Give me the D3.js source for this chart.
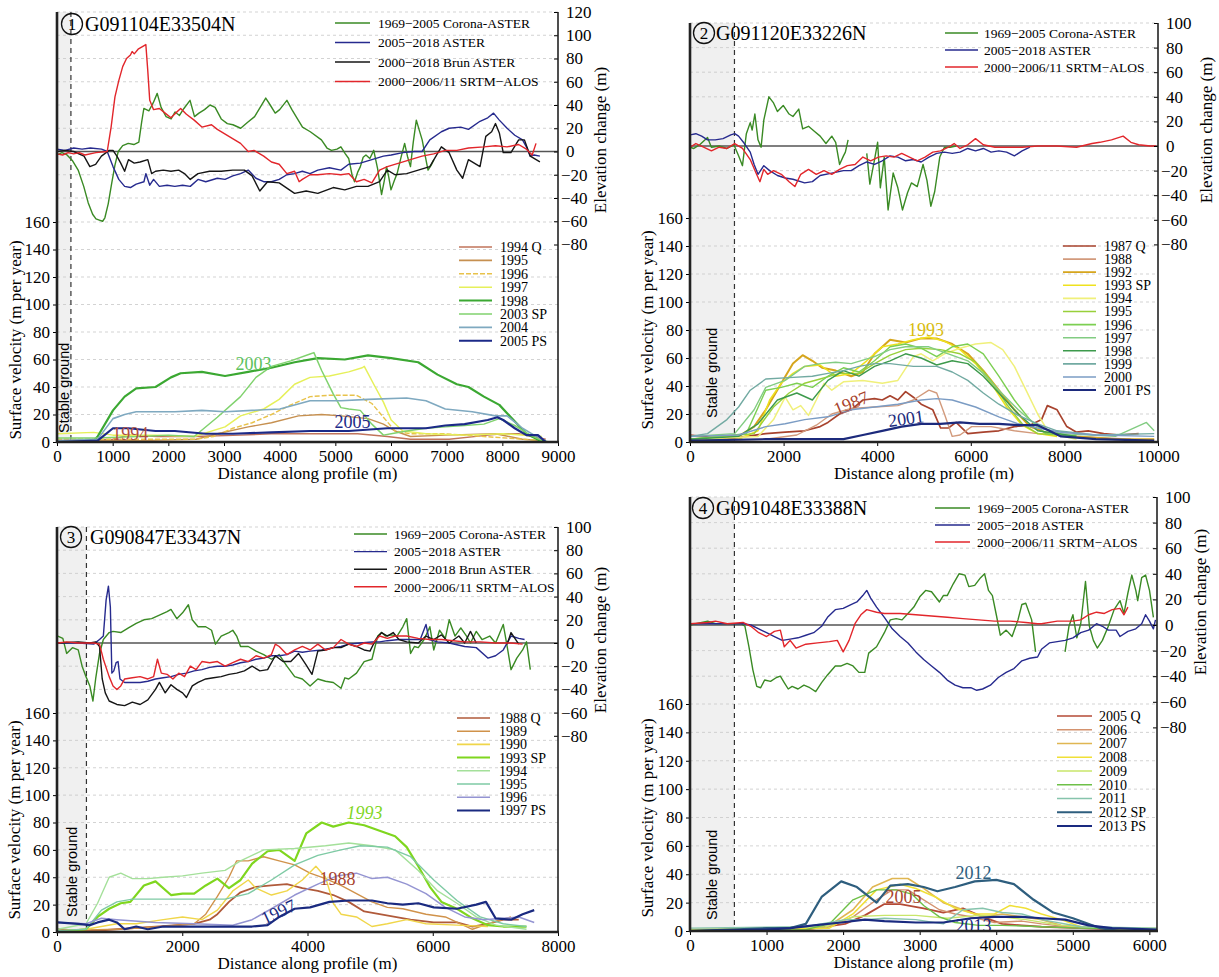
<!DOCTYPE html>
<html>
<head>
<meta charset="utf-8">
<script src="https://cdn.jsdelivr.net/npm/d3@7"></script>
<style>
body { margin: 0; background: #fff; }
svg { display: block; font-family: "Liberation Serif", "Times New Roman", serif; }
</style>
</head>
<body>
<svg id="fig" width="1219" height="977"></svg>
<script>
// ---------- panel 1 : G091104E33504N ----------
var p1Corona = [[0,-3],[90,-1],[180,-3],[280,-8],[380,-16],[480,-30],[560,-44],[640,-54],[700,-58],[760,-59],[820,-60],[860,-57],[920,-45],[980,-28],[1040,-12],[1100,0],[1180,5],[1280,7],[1380,6],[1470,8],[1520,25],[1560,37],[1650,35],[1730,42],[1800,50],[1870,38],[1960,30],[2050,28],[2120,34],[2200,31],[2280,37],[2390,44],[2470,30],[2550,33],[2650,36],[2750,40],[2840,38],[2950,28],[3060,24],[3160,23],[3300,20],[3420,25],[3550,30],[3650,38],[3750,46],[3830,40],[3920,33],[4000,36],[4130,44],[4220,36],[4320,28],[4410,21],[4550,17],[4750,10],[4850,3],[4930,1],[5030,2],[5100,4],[5180,-2],[5240,-6],[5300,-20],[5345,-26],[5400,-18],[5450,-13],[5500,-5],[5550,-3],[5620,-6],[5690,1],[5760,-15],[5830,-37],[5880,-25],[5920,-13],[5960,-22],[6000,-33],[6060,-25],[6110,-19],[6180,-5],[6245,7],[6300,-5],[6350,-13],[6400,8],[6455,27],[6510,18],[6560,10],[6620,-5],[6665,-16],[6720,-12],[6770,-7]];
var p1Aster = [[0,2],[150,1],[300,3],[450,2],[600,3],[800,2],[902,0],[1006,-13],[1110,-24],[1215,-30],[1319,-31],[1423,-28],[1562,-26],[1596,-19],[1666,-29],[1735,-24],[1839,-30],[1978,-29],[2117,-30],[2256,-29],[2394,-30],[2533,-24],[2672,-26],[2880,-23],[3019,-24],[3158,-21],[3297,-19],[3435,-16],[3574,-23],[3713,-26],[3852,-26],[3991,-24],[4129,-20],[4268,-19],[4407,-17],[4546,-19],[4685,-16],[4893,-14],[5100,-16],[5240,-11],[5448,-10],[5656,-7],[5864,-4],[6003,-3],[6211,-1],[6420,0],[6558,0],[6697,10],[6905,17],[7044,20],[7252,21],[7391,19],[7599,26],[7738,29],[7842,33],[7946,27],[8085,20],[8224,14],[8363,10],[8432,4],[8502,-4],[8571,-3],[8675,-4]];
var p1Brun = [[0,0],[150,1],[300,0],[486,-4],[590,-13],[694,-11],[798,-4],[937,1],[1006,1],[1076,-4],[1145,-10],[1215,-17],[1284,-7],[1388,-10],[1492,-9],[1631,-7],[1700,-19],[1770,-17],[1909,-16],[2047,-17],[2186,-16],[2290,-19],[2394,-24],[2533,-19],[2741,-17],[2950,-17],[3158,-16],[3366,-16],[3505,-21],[3643,-34],[3782,-26],[3991,-27],[4268,-36],[4476,-34],[4685,-36],[4962,-31],[5170,-33],[5379,-30],[5587,-30],[5795,-26],[5934,-16],[6073,-20],[6281,-19],[6489,-16],[6697,-13],[6905,4],[7044,-1],[7183,-16],[7287,-23],[7391,-7],[7599,-13],[7703,13],[7808,17],[7877,24],[7946,16],[8016,-1],[8154,-1],[8293,10],[8397,10],[8502,-4],[8675,-9]];
var p1Srtm = [[0,-2],[100,-3],[200,-1],[300,-2],[400,-1],[500,-3],[700,-1],[902,0],[972,21],[1041,47],[1110,61],[1180,73],[1249,80],[1319,83],[1350,86],[1388,84],[1457,88],[1527,90],[1596,92],[1630,70],[1666,44],[1735,36],[1839,37],[1943,33],[2047,29],[2130,33],[2221,37],[2325,32],[2464,27],[2603,21],[2776,23],[2880,19],[3088,13],[3297,7],[3435,0],[3539,1],[3713,-4],[3852,-9],[3991,-11],[4129,-19],[4268,-17],[4350,-26],[4407,-24],[4546,-20],[4685,-20],[4893,-19],[5100,-20],[5240,-19],[5379,-26],[5517,-24],[5656,-27],[5795,-16],[5934,-13],[6142,-10],[6350,-7],[6558,-4],[6767,-2],[6975,1],[7183,1],[7391,3],[7669,4],[7877,5],[8085,4],[8293,6],[8432,2],[8536,-3],[8605,7]];
var p1v1994 = [[0,1],[1000,2],[1300,5],[1800,4],[2464,4],[3300,5],[3852,6],[4600,6],[5400,6],[5934,4],[6350,2],[7044,2],[7738,5],[8000,6],[8293,6],[8780,2]];
var p1v1995 = [[0,1],[1500,1],[2500,2],[2880,6],[3435,11],[3852,14],[4338,19],[4754,20],[5100,19],[5587,17],[5864,13],[6073,8],[6350,4],[6975,5],[7877,6],[8363,2],[8710,1]];
var p1v1996 = [[0,2],[1500,2],[2500,2],[2810,4],[3158,10],[3505,14],[3852,20],[4199,27],[4546,33],[4893,34],[5379,34],[5656,28],[5864,18],[6073,8],[6350,6],[6975,6],[7669,4],[8710,1]];
var p1v1997 = [[0,6],[660,7],[1006,5],[1770,5],[2464,4],[3019,11],[3297,19],[3713,24],[3991,31],[4268,42],[4546,47],[4893,48],[5240,51],[5483,54],[5520,55],[5690,42],[5864,29],[6003,16],[6211,8],[6628,6],[7322,5],[8016,6],[8710,4]];
var p1v1998 = [[0,0],[660,1],[730,4],[1006,23],[1215,33],[1423,39],[1770,40],[2047,47],[2221,50],[2603,51],[3019,48],[3435,51],[3852,54],[4268,58],[4685,61],[5170,60],[5587,63],[6003,61],[6489,58],[6836,49],[7183,42],[7391,40],[7669,33],[7946,27],[8154,18],[8432,6],[8675,1],[8814,0]];
var p1v2003 = [[0,3],[700,3],[1500,4],[2000,5],[2464,4],[2880,18],[3297,33],[3574,47],[3852,55],[4199,59],[4546,64],[4615,65],[4754,52],[4962,35],[5100,25],[5240,24],[5448,23],[5656,13],[5864,5],[6003,6],[6281,8],[6628,10],[6975,11],[7322,12],[7669,13],[7946,17],[8224,12],[8502,5],[8710,1]];
var p1v2004 = [[0,1],[730,2],[1006,17],[1215,20],[1423,22],[2117,22],[2603,23],[3019,22],[3505,23],[4004,24],[4546,30],[5100,30],[5587,31],[6281,32],[6628,30],[6975,24],[7460,22],[7877,19],[8085,19],[8363,10],[8571,5],[8780,1]];
var p1v2005 = [[0,0],[730,1],[1006,10],[1284,10],[1770,8],[2117,8],[2672,6],[3158,6],[3852,7],[4546,8],[5240,8],[5934,10],[6628,10],[6975,12],[7322,13],[7738,16],[7912,18],[8016,16],[8224,10],[8432,5],[8640,5],[8780,0]];

// ---------- panel 2 : G091120E33226N ----------
var p2Corona = [[0,-1],[83,-2],[208,1],[374,7],[457,-1],[623,0],[789,-2],[938,1],[1038,-8],[1121,-16],[1204,10],[1287,19],[1328,13],[1386,26],[1453,5],[1519,-1],[1577,21],[1685,40],[1785,35],[1868,28],[1992,33],[2117,26],[2200,24],[2324,30],[2407,14],[2532,16],[2656,12],[2781,8],[2905,2],[3030,8],[3113,3],[3196,-15],[3279,-8],[3320,-5],[3378,5],null,[3777,-6],[3843,-31],[3943,-11],[4009,3],[4067,-34],[4150,-9],[4233,-52],[4341,-22],[4441,-34],[4540,-52],[4648,-38],[4731,-30],[4856,-33],[4980,-15],[5063,-28],[5146,-49],[5229,-37],[5337,-9],[5437,-1],[5561,-1],[5686,0]];
var p2Aster = [[0,9],[125,10],[249,8],[374,5],[540,5],[706,6],[872,9],[955,10],[1038,8],[1162,2],[1287,-5],[1370,-15],[1453,-23],[1577,-16],[1702,-20],[1868,-24],[2034,-26],[2200,-27],[2449,-30],[2615,-29],[2781,-24],[3030,-22],[3279,-20],[3445,-20],[3611,-16],[3777,-13],[3943,-15],[4109,-12],[4275,-8],[4441,-9],[4607,-12],[4773,-11],[4939,-13],[5105,-9],[5271,-6],[5437,-5],[5603,-6],[5769,-5],[5935,-2],[6101,-4],[6267,-2],[6433,-5],[6599,-4],[6765,-5],[6931,-8],[7097,-4],[7263,-1]];
var p2Srtm = [[0,-1],[125,2],[291,-1],[457,-4],[623,-1],[789,-2],[955,2],[1121,-2],[1287,-11],[1411,-22],[1494,-29],[1577,-19],[1660,-23],[1785,-20],[1951,-23],[2117,-29],[2241,-33],[2366,-23],[2532,-19],[2698,-23],[2864,-20],[3030,-23],[3196,-19],[3362,-16],[3528,-15],[3694,-9],[3860,-12],[4026,-9],[4192,-8],[4358,-9],[4524,-6],[4690,-9],[4856,-12],[5022,-9],[5188,-5],[5354,-4],[5520,-1],[5644,2],[5769,-2],[5935,1],[6101,6],[6267,1],[6516,-1],[6765,-1],[7097,-1],[7429,0],[7844,0],[8259,-1],[8591,2],[8757,3],[9006,5],[9255,8],[9421,3],[9587,1],[9836,0],[9960,0]];
var p2v1987 = [[0,5],[789,2],[1619,6],[2034,7],[2449,8],[2781,11],[2947,14],[3196,20],[3445,23],[3694,30],[3943,31],[4109,30],[4275,33],[4441,30],[4607,36],[4773,32],[4939,27],[5188,23],[5354,10],[5520,10],[5686,14],[5935,6],[6267,7],[6599,8],[6931,11],[7263,12],[7512,16],[7636,26],[7844,23],[8051,11],[8259,7],[8508,8],[8840,6],[9172,5],[9587,6]];
var p2v1988 = [[0,1],[1619,2],[2283,5],[2698,12],[3030,20],[3445,24],[3943,25],[4441,26],[4773,30],[5105,37],[5271,35],[5437,20],[5603,4],[5769,5],[6018,11],[6433,11],[6931,8],[7429,6],[8259,4],[9421,2]];
var p2v1992 = [[0,2],[1038,4],[1370,11],[1619,23],[1951,42],[2200,56],[2407,62],[2615,58],[2822,53],[3113,51],[3445,47],[3694,50],[3943,63],[4275,73],[4607,71],[4939,74],[5271,74],[5603,70],[5935,63],[6267,51],[6599,37],[6931,23],[7263,11],[7678,6],[8259,4],[9089,2],[9919,2]];
var p2v1993 = [[0,2],[1038,2],[1453,8],[1702,30],[1951,42],[2200,49],[2449,54],[2781,55],[3113,47],[3445,49],[3777,58],[4109,68],[4441,70],[4773,73],[5105,75],[5437,72],[5769,66],[6101,56],[6433,42],[6765,25],[7097,12],[7429,6],[7844,4]];
var p2v1994 = [[0,2],[1453,4],[1785,16],[2034,32],[2200,23],[2366,26],[2532,19],[2698,30],[2864,42],[3030,37],[3279,43],[3694,44],[4109,42],[4441,44],[4773,61],[4939,63],[5188,58],[5437,63],[5769,67],[6101,70],[6433,71],[6682,66],[6931,54],[7180,37],[7429,20],[7678,6],[8259,2]];
var p2v1995 = [[0,2],[1370,6],[1785,25],[2117,35],[2449,42],[2781,45],[3196,49],[3611,49],[3943,56],[4275,62],[4607,66],[4939,67],[5354,66],[5769,63],[6101,57],[6433,44],[6765,27],[7097,13],[7429,6],[8259,4]];
var p2v1996 = [[0,2],[1204,6],[1619,37],[1951,39],[2283,42],[2615,39],[2947,47],[3279,53],[3611,50],[3943,58],[4275,68],[4607,70],[4939,67],[5271,61],[5603,68],[5935,70],[6267,63],[6599,47],[6931,30],[7263,16],[7595,6],[8259,4]];
var p2v1997 = [[0,4],[955,6],[1370,23],[1619,39],[2034,44],[2449,54],[2781,56],[3113,57],[3445,56],[3943,61],[4275,66],[4607,68],[5105,68],[5520,63],[5935,58],[6267,49],[6599,37],[7014,23],[7429,11],[7927,6],[9089,4],[9753,14],[9919,8]];
var p2v1998 = [[0,2],[1038,4],[1453,13],[1868,30],[2283,35],[2615,30],[2947,44],[3279,51],[3611,47],[3943,54],[4275,58],[4607,63],[4939,60],[5271,55],[5603,58],[5935,56],[6267,47],[6599,35],[7014,20],[7429,8],[8259,4]];
var p2v1999 = [[0,4],[374,6],[789,16],[1038,25],[1287,37],[1619,45],[2117,46],[2615,47],[2947,49],[3279,51],[3611,54],[3943,56],[4275,56],[4773,54],[5271,54],[5603,50],[5935,44],[6267,35],[6599,27],[7014,19],[7429,13],[7844,8],[8674,5],[9919,6]];
var p2v2000 = [[0,4],[1038,5],[1619,11],[2034,13],[2449,16],[2947,18],[3445,23],[3943,25],[4441,27],[4939,30],[5271,31],[5603,30],[6101,25],[6599,18],[7014,13],[7429,10],[7927,7],[8674,5],[9919,4]];
var p2v2001 = [[0,1],[1619,2],[3279,2],[3694,5],[4109,8],[4524,11],[4939,13],[5354,13],[5769,14],[6184,13],[6599,13],[7014,12],[7429,12],[7678,8],[7927,4],[8674,2],[9919,1]];

// ---------- panel 3 : G090847E33437N ----------
var p3Corona = [[12,6],[93,4],[154,-9],[247,-4],[339,-6],[401,-20],[463,-29],[524,-37],[574,-50],[617,-31],[679,-9],[740,3],[833,9],[895,10],[1018,9],[1141,13],[1265,17],[1388,20],[1512,21],[1635,24],[1758,27],[1820,29],[1913,21],[2005,26],[2098,33],[2160,20],[2252,14],[2375,14],[2468,11],[2530,-1],[2622,6],[2746,9],[2807,11],[2869,6],[2931,-3],[3054,-3],[3178,-7],[3301,-10],[3424,-14],[3548,-10],[3671,-20],[3795,-29],[3918,-31],[4041,-37],[4165,-31],[4288,-33],[4412,-34],[4535,-39],[4597,-30],[4658,-31],[4782,-26],[4905,-16],[5029,-14],[5121,6],[5183,9],[5245,6],[5337,7],[5430,6],[5522,14],[5584,21],[5646,-9],[5707,-3],[5769,-4],[5862,3],[5954,14],[6016,-6],[6108,11],[6201,4],[6263,20],[6355,6],[6448,13],[6540,6],[6602,0],[6695,10],[6787,3],[6910,6],[7003,0],[7126,16],[7188,-3],[7250,-23],[7342,-13],[7435,-6],[7497,1],[7558,-23]];
var p3Aster = [[12,0],[339,0],[586,-1],[679,3],[740,6],[784,37],[821,49],[852,31],[876,-26],[907,-24],[944,-17],[975,-16],[1006,-31],[1080,-34],[1203,-34],[1327,-34],[1450,-33],[1573,-31],[1697,-30],[1820,-29],[1944,-27],[2067,-26],[2190,-24],[2314,-23],[2437,-21],[2561,-20],[2684,-20],[2807,-19],[2931,-17],[3054,-16],[3178,-14],[3301,-13],[3424,-11],[3548,-11],[3671,-10],[3795,-7],[3918,-8],[4041,-7],[4227,-6],[4412,-4],[4535,-3],[4658,-1],[4844,0],[5029,1],[5152,1],[5275,2],[5460,3],[5646,3],[5800,3],[5892,16],[5942,3],[6077,1],[6263,0],[6510,-3],[6695,-4],[6880,-13],[7003,-11],[7126,-6],[7250,6],[7373,4],[7466,3]];
var p3Brun = [[12,0],[339,1],[524,0],[617,1],[679,-3],[722,-31],[771,-43],[833,-50],[956,-53],[1080,-54],[1203,-51],[1327,-53],[1450,-49],[1573,-40],[1635,-34],[1728,-43],[1820,-36],[1913,-40],[2005,-43],[2067,-47],[2160,-37],[2252,-34],[2375,-31],[2499,-30],[2622,-29],[2746,-27],[2869,-26],[2992,-24],[3116,-20],[3239,-24],[3363,-23],[3486,-11],[3609,-16],[3733,-16],[3856,-9],[3980,-19],[4072,-27],[4165,-7],[4288,-6],[4412,-4],[4535,-4],[4658,-1],[4782,-3],[4905,-6],[4998,-7],[5090,3],[5183,9],[5275,6],[5368,9],[5460,3],[5584,1],[5769,0],[5892,6],[6016,3],[6139,7],[6263,0],[6417,6],[6510,0],[6602,10],[6695,0],null,[7188,-1],[7250,9],[7373,-1]];
var p3Srtm = [[12,0],[154,1],[339,0],[586,0],[679,-1],[740,-14],[833,-29],[895,-37],[956,-40],[1018,-37],[1080,-31],[1203,-30],[1327,-29],[1450,-31],[1543,-29],[1604,-14],[1666,-26],[1758,-27],[1851,-31],[1944,-26],[2036,-29],[2129,-20],[2221,-23],[2314,-16],[2437,-17],[2561,-16],[2684,-20],[2807,-17],[2931,-14],[3054,-16],[3178,-11],[3301,-13],[3424,-10],[3486,-1],[3548,-3],[3671,-10],[3795,-6],[3918,-3],[4041,-6],[4165,-1],[4288,-6],[4412,-4],[4535,3],[4658,-1],[4782,-3],[4905,0],[5029,-1],[5152,6],[5275,4],[5399,6],[5584,6],[5769,4],[5954,3],[6139,3],[6324,2],[6510,1],[6757,1],[7003,0],[7250,0],[7435,-1]];
var p3v1988 = [[12,2],[339,1],[648,1],[956,2],[1573,4],[2190,6],[2437,9],[2561,13],[2746,22],[2931,29],[3178,33],[3424,34],[3671,35],[3918,32],[4165,30],[4412,27],[4658,22],[4905,15],[5152,13],[5399,11],[5646,9],[6016,7],[6386,7],[6633,4],[6880,6],[7126,9],[7373,9]];
var p3v1989 = [[12,1],[956,2],[1697,4],[2190,6],[2375,13],[2561,26],[2746,40],[2869,52],[3054,52],[3301,55],[3548,52],[3795,49],[4041,43],[4288,39],[4535,34],[4782,28],[5029,22],[5275,18],[5522,17],[5892,13],[6201,11],[6633,2],[6880,6],[7250,11]];
var p3v1990 = [[12,1],[463,2],[956,6],[1265,6],[1697,9],[2005,11],[2314,9],[2561,16],[2807,30],[3054,38],[3178,32],[3424,27],[3671,30],[3918,38],[4134,48],[4288,40],[4412,21],[4535,13],[4782,11],[5029,4],[5275,6],[5584,9],[5892,6],[6386,5],[6880,4]];
var p3v1993 = [[12,0],[463,2],[648,11],[833,17],[1018,21],[1172,22],[1388,34],[1573,37],[1820,27],[2005,28],[2190,28],[2375,34],[2561,39],[2746,32],[2931,38],[3116,50],[3363,59],[3548,60],[3795,52],[3980,72],[4227,80],[4412,77],[4658,80],[4905,78],[5152,74],[5399,70],[5584,62],[5769,48],[5954,33],[6139,22],[6386,17],[6633,10],[6880,5],[7126,4],[7497,4]];
var p3v1994 = [[12,2],[463,6],[648,21],[833,40],[1018,43],[1203,39],[1450,39],[1697,40],[2005,41],[2314,43],[2684,45],[2931,52],[3301,60],[3795,61],[4288,63],[4658,65],[5029,63],[5399,60],[5769,45],[6077,30],[6386,21],[6695,11],[7003,5],[7497,2]];
var p3v1995 = [[12,1],[463,2],[710,16],[956,22],[1203,24],[1697,24],[2190,24],[2684,24],[3054,28],[3424,38],[3795,49],[4165,56],[4535,60],[4844,63],[5275,62],[5646,55],[6016,38],[6386,23],[6757,11],[7126,6],[7497,4]];
var p3v1996 = [[12,7],[463,6],[710,10],[956,9],[1573,7],[2190,6],[2807,5],[3116,9],[3424,17],[3795,27],[4165,35],[4473,41],[4782,43],[5029,39],[5275,40],[5584,35],[5892,28],[6201,18],[6510,11],[6818,9],[7126,10],[7373,11],[7620,7]];
var p3v1997 = [[12,7],[339,6],[524,5],[648,7],[833,9],[956,7],[1080,2],[1265,4],[1450,2],[1697,4],[1944,4],[2314,4],[2807,4],[3116,4],[3363,5],[3548,11],[3795,17],[4041,18],[4350,22],[4658,23],[5029,23],[5275,21],[5522,20],[5769,21],[6016,18],[6386,17],[6695,20],[6849,22],[7003,10],[7250,9],[7435,13],[7620,16]];

// ---------- panel 4 : G091048E33388N ----------
var p4Corona = [[0,0],[77,1],[231,3],[333,1],[487,1],[590,1],[667,1],[718,-1],[770,-17],[821,-35],[872,-48],[923,-49],[975,-43],[1052,-44],[1129,-41],[1180,-40],[1231,-45],[1283,-50],[1334,-48],[1411,-50],[1488,-47],[1565,-49],[1642,-52],[1719,-45],[1796,-39],[1898,-32],[1975,-32],[2052,-30],[2129,-32],[2206,-37],[2283,-37],[2334,-22],[2437,-17],[2539,-6],[2616,4],[2693,5],[2770,4],[2847,9],[2924,14],[3001,22],[3078,27],[3155,26],[3258,18],[3309,23],[3360,23],[3437,32],[3514,40],[3591,39],[3642,30],[3719,31],[3796,37],[3848,40],[3899,27],[3950,23],[4001,8],[4053,-8],[4130,-4],[4207,-9],[4284,4],[4335,16],[4386,17],[4463,4],[4514,-21],null,[4899,-21],[4950,-1],[5002,8],[5053,-10],[5104,1],[5166,34],[5217,-1],[5269,-12],[5320,-18],[5387,-12],[5464,-1],[5540,12],[5617,19],[5669,9],[5720,25],[5771,39],[5823,27],[5848,19],[5900,37],[5951,39],[6002,27],[6053,6]];
var p4Aster = [[0,1],[231,1],[487,1],[693,1],[795,0],[898,-3],[1000,-6],[1103,-9],[1206,-12],[1308,-11],[1411,-10],[1513,-8],[1616,-6],[1719,-1],[1796,6],[1898,12],[2001,13],[2103,16],[2180,18],[2257,23],[2309,27],[2360,21],[2437,14],[2539,6],[2642,-3],[2745,-9],[2847,-14],[2950,-21],[3052,-27],[3155,-32],[3258,-37],[3360,-43],[3463,-47],[3565,-49],[3668,-49],[3745,-51],[3822,-50],[3924,-47],[4027,-41],[4130,-37],[4232,-34],[4335,-28],[4437,-26],[4540,-25],[4591,-19],[4694,-14],[4797,-13],[4899,-12],[5002,-10],[5104,-6],[5207,-4],[5310,1],[5387,-1],[5464,-4],[5566,-4],[5617,-9],[5720,-5],[5823,-3],[5900,1],[5951,8],[6002,3],[6053,-3],[6080,4]];
var p4Srtm = [[0,1],[231,2],[333,3],[487,1],[693,2],[795,-1],[898,-6],[1000,-9],[1103,-5],[1180,-4],[1231,-17],[1308,-12],[1385,-18],[1513,-15],[1667,-14],[1821,-13],[1924,-12],[2001,-21],[2078,-12],[2155,1],[2232,8],[2309,12],[2437,10],[2539,9],[2745,9],[2950,8],[3155,7],[3360,6],[3565,5],[3771,4],[3976,3],[4181,3],[4386,2],[4540,1],[4591,1],[4797,3],[5002,3],[5104,4],[5207,8],[5310,10],[5412,9],[5515,12],[5617,13],[5669,8],[5720,14]];
var p4v2005 = [[0,0],[1513,1],[2026,5],[2283,11],[2539,19],[2745,19],[3052,16],[3309,13],[3565,16],[3822,10],[4078,5],[4335,4],[4591,3],[5104,2],[5617,1],[6100,1]];
var p4v2006 = [[0,0],[1770,2],[2129,10],[2437,22],[2642,29],[2847,29],[3052,22],[3258,15],[3463,12],[3668,10],[3976,6],[4335,7],[4591,5],[5104,2],[6100,1]];
var p4v2007 = [[0,1],[1770,2],[2129,15],[2385,31],[2642,37],[2847,37],[3052,30],[3309,20],[3565,15],[3822,10],[4078,12],[4335,10],[4591,8],[4848,4],[5361,2],[6100,1]];
var p4v2008 = [[0,0],[1821,2],[2129,12],[2437,29],[2745,33],[2950,30],[3206,24],[3463,16],[3719,12],[3976,12],[4181,18],[4386,16],[4591,12],[4848,8],[5104,3],[6100,1]];
var p4v2009 = [[0,1],[1770,3],[2129,10],[2539,11],[2950,11],[3360,9],[3771,11],[4078,10],[4386,8],[4848,4],[5361,2],[6100,2]];
var p4v2010 = [[0,0],[1513,1],[1821,5],[2129,22],[2437,29],[2693,29],[2898,26],[3052,18],[3258,10],[3463,6],[3771,4],[4078,4],[4591,3],[5104,2],[6100,1]];
var p4v2011 = [[0,2],[1513,3],[2026,8],[2283,8],[2539,9],[2950,8],[3309,5],[3565,15],[3822,16],[4078,13],[4335,12],[4591,8],[5104,3],[6100,2]];
var p4v2012 = [[0,0],[1000,2],[1308,2],[1513,5],[1719,24],[1975,35],[2180,31],[2437,20],[2616,32],[2847,33],[3052,31],[3232,28],[3463,31],[3719,35],[4001,36],[4232,33],[4489,22],[4745,13],[5002,9],[5156,6],[5361,2],[5617,0],[6100,0]];
var p4v2013 = [[0,0],[1000,1],[1308,2],[1616,4],[1975,6],[2283,8],[2539,7],[2950,6],[3309,6],[3668,9],[3976,10],[4335,10],[4591,9],[4899,8],[5207,4],[5515,2],[6100,1]];

// legend labels
var elevNames4 = ["1969\u22122005 Corona-ASTER", "2005\u22122018 ASTER", "2000\u22122018 Brun ASTER", "2000\u22122006/11 SRTM\u2212ALOS"];
var elevNames3 = ["1969\u22122005 Corona-ASTER", "2005\u22122018 ASTER", "2000\u22122006/11 SRTM\u2212ALOS"];

var cCorona = "#3a8a24", cAster = "#262a8e", cBrun = "#161616", cSrtm = "#e2262b";

var panels = [
  { num: "1", name: "G091104E33504N",
    left: 57, right: 558, top: 12, bottom: 442, v160: 222, e0: 151.5, eMax: 120, xMax: 9000,
    xTicks: d3.range(0, 9001, 1000), stable: 250, stableDy: 9,
    title: [72, 24, 85], elevLeg: [335, 370, 378, 23, 19.5], velLeg: [459, 492, 500, 247, 13.4],
    yTitleX: 15, yTitleY: 340, eTitleX: 600, eTitleY: 140,
    elev: [[p1Corona, cCorona], [p1Aster, cAster], [p1Brun, cBrun], [p1Srtm, cSrtm]], elevNames: elevNames4,
    vel: [["1994 Q", p1v1994, "#c0735a", 1.4], ["1995", p1v1995, "#c69050", 1.4], ["1996", p1v1996, "#e8c24a", 1.4, "5,2"],
          ["1997", p1v1997, "#e6f05a", 1.5], ["1998", p1v1998, "#3ba832", 2.2], ["2003 SP", p1v2003, "#80d26e", 1.5],
          ["2004", p1v2004, "#7fa9c0", 1.6], ["2005 PS", p1v2005, "#1c2a88", 2.2]],
    notes: [["2003", 3528, 57, "#5cc25c", 0, false], ["2005", 5310, 15, "#1c2a88", 0, false], ["1994", 1314, 6, "#b04e3e", 0, false]] },
  { num: "2", name: "G091120E33226N",
    left: 690, right: 1158, top: 23, bottom: 442, v160: 218, e0: 146, eMax: 100, xMax: 10000,
    xTicks: d3.range(0, 10001, 2000), stable: 950, stableDy: 24,
    title: [704, 33, 716], elevLeg: [945, 978, 984, 33, 17], velLeg: [1063, 1096, 1104, 246, 13.1],
    yTitleX: 647, yTitleY: 330, eTitleX: 1206, eTitleY: 130,
    elev: [[p2Corona, cCorona], [p2Aster, cAster], [p2Srtm, cSrtm]], elevNames: elevNames3,
    vel: [["1987 Q", p2v1987, "#a8432e", 1.7], ["1988", p2v1988, "#d29a7c", 1.4], ["1992", p2v1992, "#d6a51c", 2.0],
          ["1993 SP", p2v1993, "#efe21e", 1.5], ["1994", p2v1994, "#f0f07a", 1.5], ["1995", p2v1995, "#98d03a", 1.4],
          ["1996", p2v1996, "#7ccf52", 1.4], ["1997", p2v1997, "#82cc82", 1.4], ["1998", p2v1998, "#3d9a4c", 1.4],
          ["1999", p2v1999, "#72aaa2", 1.4], ["2000", p2v2000, "#7b9cc4", 1.4], ["2001 PS", p2v2001, "#1c2a7c", 2.2]],
    notes: [["1993", 5043, 80, "#d8bc10", 0, false], ["1987", 3440, 28, "#a8432e", -22, false], ["2001", 4615, 17, "#1c2a7c", -8, false]] },
  { num: "3", name: "G090847E33437N",
    left: 57, right: 558, top: 527, bottom: 932, v160: 713, e0: 643, eMax: 100, xMax: 8000,
    xTicks: d3.range(0, 8001, 2000), stable: 470, stableDy: 15,
    title: [71, 537, 90], elevLeg: [354, 387, 394, 534, 17.6], velLeg: [457, 490, 499, 718, 13.2],
    yTitleX: 14, yTitleY: 820, eTitleX: 600, eTitleY: 640,
    elev: [[p3Corona, cCorona], [p3Aster, cAster], [p3Brun, cBrun], [p3Srtm, cSrtm]], elevNames: elevNames4,
    vel: [["1988 Q", p3v1988, "#b05a3a", 1.8], ["1989", p3v1989, "#d0924a", 1.4], ["1990", p3v1990, "#f0d64a", 1.4],
          ["1993 SP", p3v1993, "#7fd61e", 2.2], ["1994", p3v1994, "#a4e09a", 1.4], ["1995", p3v1995, "#7ecaa4", 1.4],
          ["1996", p3v1996, "#9494d2", 1.5], ["1997 PS", p3v1997, "#1a2a80", 2.2]],
    notes: [["1993", 4912, 87, "#7fd61e", 0, true], ["1988", 4480, 39, "#a8432e", 0, false], ["1997", 3536, 15, "#1a2a80", -25, false]] },
  { num: "4", name: "G091048E33388N",
    left: 690, right: 1157, top: 497, bottom: 931, v160: 704, e0: 625, eMax: 100, xMax: 6100,
    xTicks: d3.range(0, 6001, 1000), stable: 580, stableDy: 11,
    title: [703, 508, 716], elevLeg: [935, 970, 977, 508, 17], velLeg: [1057, 1092, 1099, 716, 13.75],
    yTitleX: 647, yTitleY: 818, eTitleX: 1200, eTitleY: 602,
    elev: [[p4Corona, cCorona], [p4Aster, cAster], [p4Srtm, cSrtm]], elevNames: elevNames3,
    vel: [["2005 Q", p4v2005, "#b44a36", 1.8], ["2006", p4v2006, "#d4926e", 1.4], ["2007", p4v2007, "#e0b652", 1.6],
          ["2008", p4v2008, "#f0e036", 1.5], ["2009", p4v2009, "#c8e66a", 1.4], ["2010", p4v2010, "#6ec048", 1.4],
          ["2011", p4v2011, "#86c4ac", 1.4], ["2012 SP", p4v2012, "#2e5e7e", 2.2], ["2013 PS", p4v2013, "#1a2a80", 2.2]],
    notes: [["2012", 3703, 41, "#2e5e7e", 0, false], ["2005", 2790, 24, "#a8432e", 0, false], ["2013", 3703, 4, "#1a2a80", 0, false]] }
];

var svg = d3.select("#fig");

panels.forEach(drawPanel);

function drawPanel(p, i) {
  var g = svg.append("g");
  var x = d3.scaleLinear().domain([0, p.xMax]).range([p.left, p.right]);
  var v = d3.scaleLinear().domain([0, 160]).range([p.bottom, p.v160]);
  var e = d3.scaleLinear().domain([0, p.eMax]).range([p.e0, p.top]);
  var eTicks = d3.range(-80, p.eMax + 1, 20);

  svg.append("clipPath").attr("id", "clip" + i)
     .append("rect")
     .attr("x", p.left).attr("y", p.top)
     .attr("width", p.right - p.left).attr("height", p.bottom - p.top);

  // stable ground band
  g.append("rect")
   .attr("x", p.left).attr("y", p.top)
   .attr("width", x(p.stable) - p.left).attr("height", p.bottom - p.top)
   .attr("fill", "#f0f0f0");

  // dashed grid
  var gridY = d3.range(20, 161, 20).map(v)
      .concat(eTicks.filter(function(t) { return t >= -40 && t !== 0; }).map(e));
  g.selectAll(".grid").data(gridY).enter().append("line")
   .attr("x1", p.left).attr("x2", p.right)
   .attr("y1", function(d) { return d; }).attr("y2", function(d) { return d; })
   .attr("stroke", "#c8c8c8").attr("stroke-width", 0.8).attr("stroke-dasharray", "3,3");

  // zero line of elevation change
  g.append("line")
   .attr("x1", p.left).attr("x2", p.right).attr("y1", e(0)).attr("y2", e(0))
   .attr("stroke", "#555").attr("stroke-width", 1.3);

  // stable ground limit
  g.append("line")
   .attr("x1", x(p.stable)).attr("x2", x(p.stable)).attr("y1", p.top).attr("y2", p.bottom)
   .attr("stroke", "#333").attr("stroke-width", 1.2).attr("stroke-dasharray", "5,4");

  g.append("text")
   .attr("transform", "translate(" + ((p.left + x(p.stable)) / 2) + "," + (p.bottom - p.stableDy) + ") rotate(-90)")
   .attr("dy", "0.35em")
   .style("font-family", "'Liberation Sans', Arial, sans-serif")
   .style("font-size", "14.5px")
   .text("Stable ground");

  var plot = g.append("g").attr("clip-path", "url(#clip" + i + ")");

  var velLine = d3.line().defined(function(d) { return d != null; })
      .x(function(d) { return x(d[0]); }).y(function(d) { return v(d[1]); });
  var elevLine = d3.line().defined(function(d) { return d != null; })
      .x(function(d) { return x(d[0]); }).y(function(d) { return e(d[1]); });

  p.vel.forEach(function(s) {
    plot.append("path")
        .attr("d", velLine(s[1]))
        .attr("fill", "none").attr("stroke", s[2]).attr("stroke-width", s[3])
        .attr("stroke-dasharray", s[4] || null).attr("stroke-linejoin", "round");
  });
  p.elev.forEach(function(s) {
    plot.append("path")
        .attr("d", elevLine(s[0]))
        .attr("fill", "none").attr("stroke", s[1]).attr("stroke-width", 1.4)
        .attr("stroke-linejoin", "round");
  });

  // year notes on the velocity curves
  p.notes.forEach(function(n) {
    g.append("text")
     .attr("transform", "translate(" + x(n[1]) + "," + v(n[2]) + ") rotate(" + n[4] + ")")
     .attr("text-anchor", "middle").attr("dy", "0.35em")
     .attr("fill", n[3]).style("font-size", "18px")
     .style("font-style", n[5] ? "italic" : "normal")
     .text(n[0]);
  });

  // axes
  var yAxis = g.append("g").attr("transform", "translate(" + p.left + ",0)")
      .call(d3.axisLeft(v).tickValues(d3.range(0, 161, 20)).tickSize(4).tickPadding(3));
  yAxis.select(".domain").remove();
  yAxis.selectAll("text").style("font-size", "17px").style("font-family", "'Liberation Serif', serif");

  var eAxis = g.append("g").attr("transform", "translate(" + p.right + ",0)")
      .call(d3.axisRight(e).tickValues(eTicks).tickSize(-4).tickPadding(8));
  eAxis.select(".domain").remove();
  eAxis.selectAll("text")
       .attr("x", function(d) { return d < 0 ? 3 : 8; })
       .style("font-size", "17px").style("font-family", "'Liberation Serif', serif");

  var xAxis = g.append("g").attr("transform", "translate(0," + p.bottom + ")")
      .call(d3.axisBottom(x).tickValues(p.xTicks).tickSize(4).tickPadding(4).tickFormat(d3.format("d")));
  xAxis.select(".domain").remove();
  xAxis.selectAll("text").style("font-size", "17px").style("font-family", "'Liberation Serif', serif");

  // frame
  g.append("line").attr("x1", p.left).attr("x2", p.left).attr("y1", p.top).attr("y2", p.bottom + 1)
   .attr("stroke", "#222").attr("stroke-width", 2.6);
  g.append("line").attr("x1", p.right).attr("x2", p.right).attr("y1", p.top).attr("y2", p.bottom + 1)
   .attr("stroke", "#222").attr("stroke-width", 1.6);
  g.append("line").attr("x1", p.left - 1).attr("x2", p.right + 1).attr("y1", p.bottom).attr("y2", p.bottom)
   .attr("stroke", "#222").attr("stroke-width", 2.4);

  // axis titles
  g.append("text")
   .attr("transform", "translate(" + p.yTitleX + "," + p.yTitleY + ") rotate(-90)")
   .attr("text-anchor", "middle").attr("dy", "0.35em").style("font-size", "17px")
   .text("Surface velocity (m per year)");
  g.append("text")
   .attr("transform", "translate(" + p.eTitleX + "," + p.eTitleY + ") rotate(-90)")
   .attr("text-anchor", "middle").attr("dy", "0.35em").style("font-size", "17px")
   .text("Elevation change (m)");
  g.append("text")
   .attr("x", (p.left + p.right) / 2).attr("y", p.bottom + 37)
   .attr("text-anchor", "middle").style("font-size", "17px")
   .text("Distance along profile (m)");

  // title with circled number
  g.append("circle").attr("cx", p.title[0]).attr("cy", p.title[1]).attr("r", 10.5)
   .attr("fill", "none").attr("stroke", "#111").attr("stroke-width", 1.3);
  g.append("text").attr("x", p.title[0]).attr("y", p.title[1]).attr("dy", "0.36em")
   .attr("text-anchor", "middle").style("font-size", "17px").text(p.num);
  g.append("text").attr("x", p.title[2]).attr("y", p.title[1]).attr("dy", "0.35em")
   .style("font-size", "20px").text(p.name);

  // elevation legend
  var el = p.elevLeg;
  p.elev.forEach(function(s, k) {
    var yy = el[3] + k * el[4];
    g.append("line").attr("x1", el[0]).attr("x2", el[1]).attr("y1", yy).attr("y2", yy)
     .attr("stroke", s[1]).attr("stroke-width", 1.4);
    g.append("text").attr("x", el[2]).attr("y", yy).attr("dy", "0.35em")
     .style("font-size", "13.5px").text(p.elevNames[k]);
  });

  // velocity legend
  var vl = p.velLeg;
  p.vel.forEach(function(s, k) {
    var yy = vl[3] + k * vl[4];
    g.append("line").attr("x1", vl[0]).attr("x2", vl[1]).attr("y1", yy).attr("y2", yy)
     .attr("stroke", s[2]).attr("stroke-width", Math.max(1.6, s[3] * 0.9))
     .attr("stroke-dasharray", s[4] || null);
    g.append("text").attr("x", vl[2]).attr("y", yy).attr("dy", "0.35em")
     .style("font-size", "14px").text(s[0]);
  });
}
</script>
</body>
</html>
